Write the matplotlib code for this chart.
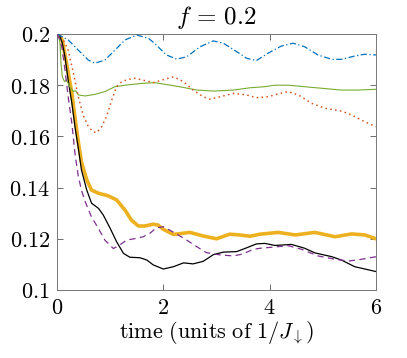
import matplotlib
matplotlib.use("Agg")
import matplotlib.pyplot as plt

plt.rcParams['mathtext.fontset'] = 'cm'
plt.rcParams['font.family'] = ['DejaVu Serif']

# ---- data ----
t_blue = [0, 0.21, 0.40, 0.59, 0.71, 0.9, 1.09, 1.28, 1.5, 1.72, 1.81, 2.06, 2.25, 2.44,
          2.69, 2.94, 3.13, 3.38, 3.57, 3.75, 3.97, 4.22, 4.44, 4.66, 4.91, 5.17, 5.35,
          5.6, 5.79, 6.0]
v_blue = [0.2, 0.1977, 0.1937, 0.1898, 0.1886, 0.1898, 0.1937, 0.1977, 0.1996, 0.1983,
          0.1968, 0.1918, 0.1902, 0.1911, 0.1950, 0.1973, 0.1964, 0.1931, 0.1905, 0.1896,
          0.1925, 0.1953, 0.1964, 0.1950, 0.1918, 0.1901, 0.1901, 0.1914, 0.1921, 0.1918]

t_orange = [0, 0.08, 0.15, 0.21, 0.31, 0.40, 0.49, 0.59, 0.68, 0.75, 0.84, 0.93, 1.03,
            1.12, 1.22, 1.34, 1.47, 1.65, 1.81, 1.94, 2.19, 2.38, 2.56, 2.75, 2.88, 3.07,
            3.32, 3.57, 3.75, 3.97, 4.16, 4.35, 4.54, 4.79, 5.04, 5.35, 5.54, 5.79, 6.0]
v_orange = [0.2, 0.1992, 0.1964, 0.1937, 0.1846, 0.1755, 0.1684, 0.1638, 0.1618, 0.1615,
            0.1638, 0.1677, 0.1742, 0.1794, 0.1814, 0.1823, 0.1827, 0.1818, 0.1810,
            0.1818, 0.1833, 0.1814, 0.1781, 0.1755, 0.1745, 0.1755, 0.1768, 0.1762,
            0.1751, 0.1755, 0.1766, 0.1775, 0.1762, 0.1729, 0.1710, 0.1699, 0.1684,
            0.1657, 0.1638]

t_green = [0, 0.03, 0.056, 0.075, 0.1, 0.14, 0.18, 0.24, 0.31, 0.35, 0.40, 0.53, 0.71,
           0.9, 1.09, 1.28, 1.59, 1.84, 2.31, 2.63, 2.94, 3.32, 3.63, 3.9, 4.1, 4.35,
           4.66, 4.98, 5.35, 5.66, 6.0]
v_green = [0.2, 0.1995, 0.1964, 0.1886, 0.1833, 0.1814, 0.1820, 0.1794, 0.1775, 0.1779,
           0.1762, 0.1758, 0.1764, 0.1775, 0.1794, 0.1800, 0.1807, 0.1810, 0.1794,
           0.1781, 0.1777, 0.1781, 0.1790, 0.1794, 0.1800, 0.1800, 0.1794, 0.1788,
           0.1781, 0.1781, 0.1784]

t_yellow = [0, 0.05, 0.1, 0.18, 0.28, 0.34, 0.40, 0.46, 0.56, 0.65, 0.78, 0.96, 1.12,
            1.28, 1.40, 1.53, 1.65, 1.81, 1.90, 2.0, 2.19, 2.5, 2.75, 3.0, 3.25, 3.44,
            3.63, 3.82, 4.16, 4.48, 4.85, 5.23, 5.54, 5.79, 6.0]
v_yellow = [0.2, 0.1993, 0.1975, 0.1886, 0.1768, 0.1670, 0.1580, 0.1500, 0.1430,
            0.1390, 0.1378, 0.1368, 0.1352, 0.1312, 0.1273, 0.1250, 0.1250, 0.1257,
            0.1254, 0.1237, 0.1217, 0.1225, 0.1211, 0.1200, 0.1218, 0.1215, 0.1210,
            0.1218, 0.1225, 0.1215, 0.1225, 0.1208, 0.1219, 0.1215, 0.1200]

t_black = [0, 0.05, 0.1, 0.15, 0.21, 0.28, 0.34, 0.40, 0.46, 0.56, 0.65, 0.78, 0.87,
           1.0, 1.12, 1.25, 1.37, 1.56, 1.69, 1.81, 2.0, 2.19, 2.38, 2.56, 2.75, 2.94,
           3.13, 3.38, 3.57, 3.75, 3.91, 4.1, 4.41, 4.66, 4.85, 5.17, 5.35, 5.6, 5.79, 6.0]
v_black = [0.2, 0.1993, 0.1965, 0.1911, 0.1820, 0.1729, 0.1635, 0.1555, 0.1469, 0.1390,
           0.1339, 0.1319, 0.1293, 0.1241, 0.1189, 0.1143, 0.1128, 0.1126, 0.1117,
           0.1098, 0.1082, 0.1091, 0.1106, 0.1102, 0.1112, 0.1138, 0.1148, 0.1150,
           0.1165, 0.1180, 0.1182, 0.1174, 0.1178, 0.1163, 0.1145, 0.1130, 0.1117,
           0.1091, 0.1082, 0.1072]

t_purple = [0, 0.05, 0.09, 0.15, 0.21, 0.28, 0.34, 0.40, 0.46, 0.53, 0.65, 0.78, 0.9,
            1.06, 1.18, 1.31, 1.50, 1.62, 1.75, 1.87, 2.0, 2.12, 2.28, 2.44, 2.63, 2.81,
            3.07, 3.32, 3.5, 3.69, 3.82, 4.04, 4.35, 4.6, 4.91, 5.23, 5.48, 5.73, 6.0]
v_purple = [0.2, 0.1980, 0.1950, 0.1860, 0.1755, 0.1650, 0.1530, 0.1445, 0.1390,
            0.1345, 0.1285, 0.1240, 0.1195, 0.1162, 0.1176, 0.1195, 0.1202, 0.1208,
            0.1222, 0.1243, 0.1247, 0.1234, 0.1215, 0.1195, 0.1169, 0.1146, 0.1137,
            0.1133, 0.1141, 0.1159, 0.1163, 0.1167, 0.1173, 0.1159, 0.1133, 0.1120,
            0.1113, 0.1120, 0.1130]

xticks = [0, 2, 4, 6]
xtick_labels = ['0', '2', '4', '6']
yticks = [0.1, 0.12, 0.14, 0.16, 0.18, 0.2]
ytick_labels = ['0.1', '0.12', '0.14', '0.16', '0.18', '0.2']

# ---- figure ----
fig = plt.figure(figsize=(4.07, 3.58), dpi=100)
ax = fig.add_axes([57/407, 68/358, (376-57)/407, (290-34)/358])

ax.plot(t_yellow, v_yellow, color='#EDB120', lw=2.6, solid_joinstyle='round', zorder=2)
ax.plot(t_black, v_black, color='black', lw=0.9, zorder=3)
ax.plot(t_purple, v_purple, color='#7E2F8E', lw=0.9, ls=(0, (5, 3.5)), zorder=4)
ax.plot(t_green, v_green, color='#77AC30', lw=0.8, zorder=3)
ax.plot(t_orange, v_orange, color='#D95319', lw=1.1, ls=(0, (1, 2.2)), zorder=3)
ax.plot(t_blue, v_blue, color='#0072BD', lw=0.9, ls=(0, (5, 2, 1, 2)), zorder=3)

ax.set_xlim(0, 6)
ax.set_ylim(0.1, 0.2)
ax.set_xticks(xticks, ['$%s$' % s for s in xtick_labels])
ax.set_yticks(yticks, ['$%s$' % s for s in ytick_labels])
ax.tick_params(direction='in', top=True, right=True, length=4, width=0.6,
               color='#555555', labelsize=16, pad=5)
for sp in ax.spines.values():
    sp.set_color('#777777')
    sp.set_linewidth(0.7)

ax.set_title(r'$f\,=\,0.2$', fontsize=18, pad=7)
ax.set_xlabel(r'$\mathrm{time\ (units\ of\ }1/J_{\downarrow})$', fontsize=16, labelpad=0)

fig.savefig('out.png', dpi=100)
